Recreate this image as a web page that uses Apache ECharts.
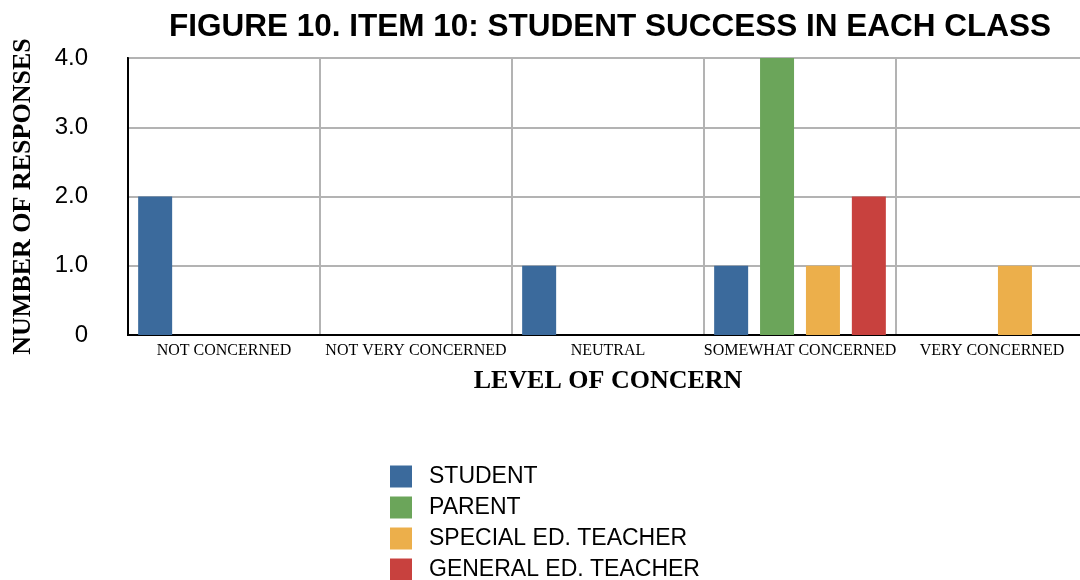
<!DOCTYPE html>
<html>
<head>
<meta charset="utf-8">
<script src="https://cdn.jsdelivr.net/npm/echarts@6/dist/echarts.min.js"></script>
<style>
  html, body { margin: 0; padding: 0; background: #fff; }
  #chart { width: 1080px; height: 580px; }
</style>
</head>
<body>
<div id="chart"></div>
<script>
// categories on the x axis
var levels = ["NOT CONCERNED", "NOT VERY CONCERNED", "NEUTRAL", "SOMEWHAT CONCERNED", "VERY CONCERNED"];
// one array per respondent group
var student = [2, 0, 1, 1, 0];
var parent = [0, 0, 0, 4, 0];
var specialEd = [0, 0, 0, 1, 1];
var generalEd = [0, 0, 0, 2, 0];
var groupNames = ["STUDENT", "PARENT", "SPECIAL ED. TEACHER", "GENERAL ED. TEACHER"];
var colors = ["#3b6a9c", "#6ba55a", "#ecaf4b", "#c8413e"];

var myChart = echarts.init(document.getElementById("chart"));

function bar(name, values, color) {
  return {
    name: name,
    type: "bar",
    data: values,
    barWidth: 34,
    barGap: "35%",
    itemStyle: { color: color },
    emphasis: { disabled: true }
  };
}

var sans = "Liberation Sans, Arial, sans-serif";
var serif = "Liberation Serif, Times New Roman, serif";

var option = {
  animation: false,
  backgroundColor: "#fff",
  title: {
    text: "FIGURE 10. ITEM 10: STUDENT SUCCESS IN EACH CLASS",
    left: 605,
    textAlign: "center",
    top: 6,
    textStyle: {
      fontFamily: sans,
      fontWeight: "bold",
      fontSize: 31.5,
      color: "#000"
    }
  },
  legend: {
    orient: "vertical",
    left: 390,
    top: 465,
    height: 140,
    padding: 0,
    itemWidth: 22,
    itemHeight: 22,
    itemGap: 8,
    icon: "rect",
    data: groupNames,
    textStyle: {
      fontFamily: sans,
      fontSize: 23,
      lineHeight: 22,
      color: "#000",
      padding: [0, 0, 0, 12]
    }
  },
  grid: {
    left: 128,
    top: 58,
    width: 960,
    bottom: 245,
    show: true,
    borderColor: "#000",
    borderWidth: 2,
    containLabel: false,
    outerBoundsMode: "none"
  },
  xAxis: {
    type: "category",
    data: levels,
    name: "LEVEL OF CONCERN",
    nameLocation: "middle",
    nameGap: 33,
    nameTextStyle: {
      fontFamily: serif,
      fontWeight: "bold",
      fontSize: 26,
      color: "#000"
    },
    axisLine: { lineStyle: { color: "#000", width: 2 } },
    axisTick: { show: false },
    axisLabel: {
      interval: 0,
      margin: 8,
      fontFamily: serif,
      fontSize: 16,
      color: "#000"
    },
    splitLine: { show: true, lineStyle: { color: "#b3b3b3", width: 2 } }
  },
  yAxis: {
    type: "value",
    min: 0,
    max: 4,
    interval: 1,
    name: "NUMBER OF RESPONSES",
    nameLocation: "middle",
    nameGap: 92,
    nameTextStyle: {
      fontFamily: serif,
      fontWeight: "bold",
      fontSize: 26,
      color: "#000"
    },
    axisLine: { show: true, lineStyle: { color: "#000", width: 2 } },
    axisTick: { show: false },
    axisLabel: {
      margin: 40,
      fontFamily: sans,
      fontSize: 24,
      color: "#000",
      formatter: function (v) { return v === 0 ? "0" : v.toFixed(1); }
    },
    splitLine: { show: true, lineStyle: { color: "#b3b3b3", width: 2 } }
  },
  series: [
    bar(groupNames[0], student, colors[0]),
    bar(groupNames[1], parent, colors[1]),
    bar(groupNames[2], specialEd, colors[2]),
    bar(groupNames[3], generalEd, colors[3])
  ]
};

myChart.setOption(option);
</script>
</body>
</html>
